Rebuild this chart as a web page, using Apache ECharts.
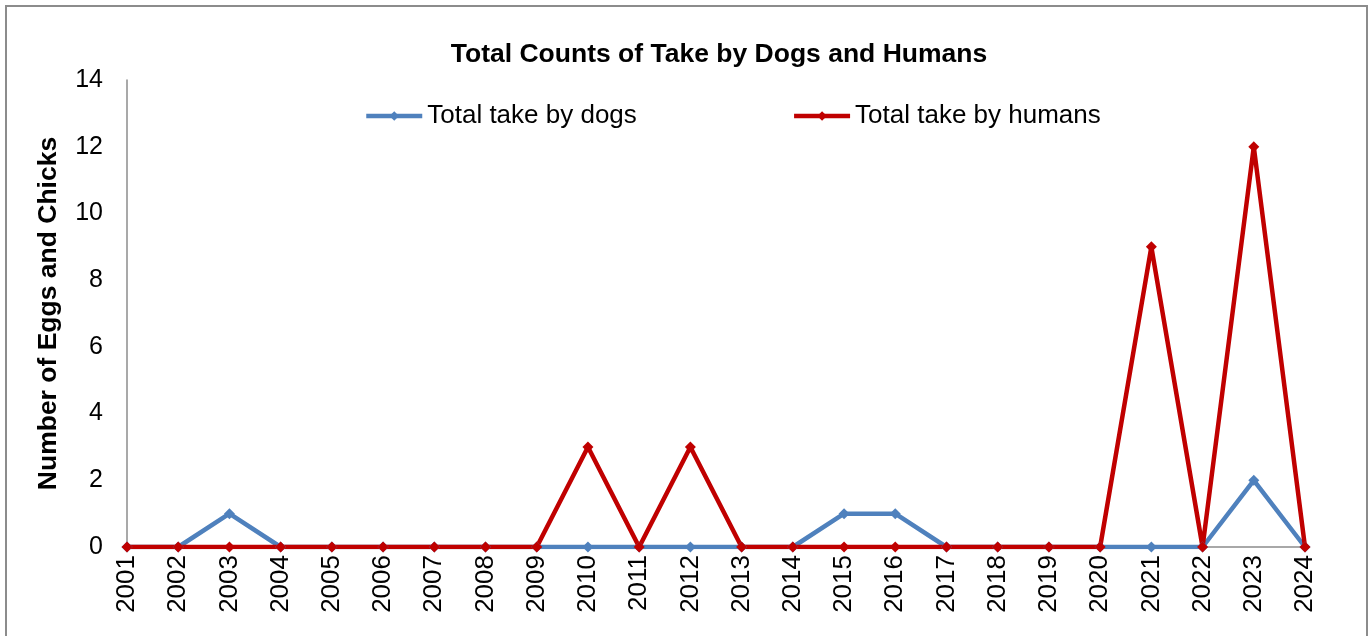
<!DOCTYPE html>
<html>
<head>
<meta charset="utf-8">
<script src="https://cdn.jsdelivr.net/npm/echarts@6/dist/echarts.min.js"></script>
<style>
  html, body { margin: 0; padding: 0; background: #fff; }
  #chart { width: 1372px; height: 636px; }
</style>
</head>
<body>
<div id="chart"></div>
<script>
// Annual counts of eggs and chicks taken
const years = ['2001','2002','2003','2004','2005','2006','2007','2008','2009','2010','2011','2012',
               '2013','2014','2015','2016','2017','2018','2019','2020','2021','2022','2023','2024'];
const takeByDogs   = [0,0,1,0,0,0,0,0,0,0,0,0,0,0,1,1,0,0,0,0,0,0,2,0];
const takeByHumans = [0,0,0,0,0,0,0,0,0,3,0,3,0,0,0,0,0,0,0,0,9,0,12,0];
const yTicks = { min: 0, max: 14, interval: 2 };

const FONT = '"Liberation Sans", Arial, sans-serif';
const chart = echarts.init(document.getElementById('chart'));

function lineSeries(name, data, color) {
  return {
    name: name,
    type: 'line',
    data: data,
    symbol: 'diamond',
    symbolSize: 11,
    lineStyle: { width: 4.5, color: color },
    itemStyle: { color: color },
    animation: false
  };
}

chart.setOption({
  backgroundColor: '#fff',
  textStyle: { fontFamily: FONT },
  graphic: [{
    type: 'rect',
    shape: { x: 6, y: 6, width: 1361, height: 640 },
    style: { fill: 'none', stroke: '#8c8c8c', lineWidth: 2 },
    silent: true
  }],
  title: {
    text: 'Total Counts of Take by Dogs and Humans',
    left: 714, top: 36, textAlign: 'center',
    textStyle: { fontFamily: FONT, fontSize: 26.5, fontWeight: 'bold', color: '#000' }
  },
  legend: {
    top: 98,
    left: 359,
    itemWidth: 56, itemHeight: 12,
    itemGap: 155,
    lineStyle: { width: 4.5 },
    itemStyle: { borderWidth: 0 },
    textStyle: { fontFamily: FONT, fontSize: 26, color: '#000' },
    data: ['Total take by dogs', 'Total take by humans']
  },
  grid: { left: 127, right: 67, top: 80, bottom: 89, containLabel: false },
  xAxis: {
    type: 'category',
    data: years,
    boundaryGap: false,
    axisLine: { lineStyle: { color: '#8c8c8c', width: 1.5 } },
    axisTick: { show: false },
    axisLabel: { rotate: 90, margin: 8, fontFamily: FONT, fontSize: 26, color: '#000', interval: 0 },
    splitLine: { show: false }
  },
  yAxis: {
    type: 'value',
    min: yTicks.min, max: yTicks.max, interval: yTicks.interval,
    name: 'Number of Eggs and Chicks',
    nameLocation: 'middle',
    nameGap: 65,
    nameTextStyle: { fontFamily: FONT, fontSize: 26.5, fontWeight: 'bold', color: '#000' },
    axisLine: { show: true, lineStyle: { color: '#8c8c8c', width: 1.5 } },
    axisTick: { show: false },
    axisLabel: { margin: 24, fontFamily: FONT, fontSize: 25, color: '#000' },
    splitLine: { show: false }
  },
  series: [
    lineSeries('Total take by dogs', takeByDogs, '#4f81bd'),
    lineSeries('Total take by humans', takeByHumans, '#c00000')
  ]
});
</script>
</body>
</html>
